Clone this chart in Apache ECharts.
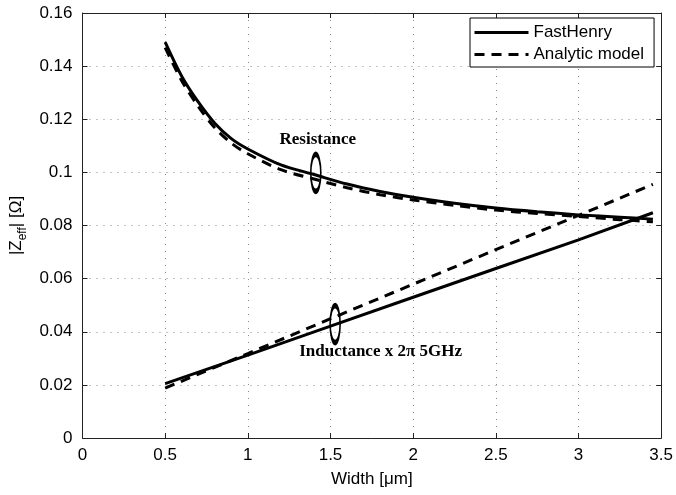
<!DOCTYPE html>
<html>
<head>
<meta charset="utf-8">
<script src="https://cdn.jsdelivr.net/npm/echarts@6/dist/echarts.min.js"></script>
<style>html,body{margin:0;padding:0;background:#fff;}#c{width:676px;height:495px;}</style>
</head>
<body>
<div id="c"></div>
<script>
// ---- data ----
const widthR = [0.5, 0.6, 0.7, 0.8, 0.9, 1.0, 1.2, 1.4, 1.6, 1.8, 2.0, 2.25, 2.5, 2.75, 3.0, 3.25, 3.45];
const resFastHenry = [0.149, 0.1362, 0.1265, 0.1185, 0.1127, 0.1088, 0.1028, 0.0992, 0.0956, 0.0928, 0.0906, 0.0884, 0.0866, 0.0852, 0.0840, 0.0831, 0.0824];
const resAnalytic = [0.147, 0.1345, 0.1248, 0.1168, 0.1110, 0.1070, 0.1010, 0.0975, 0.0942, 0.0916, 0.0896, 0.0876, 0.0858, 0.0845, 0.0834, 0.0822, 0.0814];
const widthL = [0.5, 1.0, 1.5, 2.0, 2.5, 3.0, 3.45];
const indFastHenry = [0.0205, 0.0312, 0.0421, 0.0530, 0.0638, 0.0746, 0.0848];
const indAnalytic = [0.0188, 0.0318, 0.0449, 0.0579, 0.0709, 0.0838, 0.0955];
const xTicks = [0, 0.5, 1, 1.5, 2, 2.5, 3, 3.5];
const yTicks = [0, 0.02, 0.04, 0.06, 0.08, 0.1, 0.12, 0.14, 0.16];
const legendNames = ['FastHenry', 'Analytic model'];
const annotations = [
  { text: 'Resistance', x: 1.423, y: 0.1122, ellipseX: 1.411, ellipseY: 0.0998 },
  { text: 'Inductance x 2\u03c0 5GHz', x: 1.803, y: 0.0324, ellipseX: 1.528, ellipseY: 0.0429 }
];

const pairs = (xs, ys) => xs.map((x, i) => [x, ys[i]]);
const sans = 'Liberation Sans, Arial, Helvetica, sans-serif';
const serif = 'Liberation Serif, Times New Roman, serif';
const axisCol = '#222';

const markData = [];
annotations.forEach(a => {
  markData.push({
    coord: [a.ellipseX, a.ellipseY], symbol: 'circle', symbolSize: [10, 37],
    itemStyle: { color: 'none', borderColor: '#000', borderWidth: 3 },
    label: { show: false }
  });
  markData.push({
    coord: [a.x, a.y], symbol: 'circle', symbolSize: 0,
    label: { show: true, formatter: a.text, position: 'inside', fontFamily: serif, fontWeight: 'bold', fontSize: 17, color: '#000' }
  });
});

const baseLine = (name, data, dashed) => ({
  type: 'line', name: name, data: data, symbol: 'none', smooth: 0.3,
  lineStyle: { color: '#000', width: 3, type: dashed ? [10, 7] : 'solid' },
  itemStyle: { color: '#000' },
  emphasis: { disabled: true }, animation: false, z: dashed ? 3 : 2
});

const s1 = baseLine(legendNames[0], pairs(widthR, resFastHenry), false);
const s2 = baseLine(legendNames[1], pairs(widthR, resAnalytic), true);
const s3 = baseLine(legendNames[0], pairs(widthL, indFastHenry), false);
const s4 = baseLine(legendNames[1], pairs(widthL, indAnalytic), true);
s3.smooth = false; s4.smooth = false;
s1.markPoint = { data: markData, silent: true, animation: false, z: 10 };

const chart = echarts.init(document.getElementById('c'), null, { renderer: 'canvas' });
chart.setOption({
  backgroundColor: '#fff',
  animation: false,
  grid: { left: 82, right: 10, top: 13, bottom: 57, show: false },
  legend: {
    data: legendNames, orient: 'vertical', left: 470, top: 18,
    backgroundColor: '#fff', borderColor: '#000', borderWidth: 1,
    padding: [6, 10, 4, 3], itemWidth: 54, itemHeight: 14, itemGap: 5,
    itemStyle: { opacity: 0 },
    lineStyle: { width: 3 },
    textStyle: { fontFamily: sans, fontSize: 17, color: '#000' }
  },
  xAxis: [{
    type: 'value', min: 0, max: 3.5, interval: 0.5, position: 'bottom',
    name: 'Width [\u03bcm]', nameLocation: 'middle', nameGap: 33,
    nameTextStyle: { fontFamily: sans, fontSize: 17, color: '#000' },
    axisLine: { show: true, onZero: false, lineStyle: { color: axisCol, width: 1 } },
    axisTick: { show: true, inside: true, length: 5, lineStyle: { color: axisCol } },
    axisLabel: { fontFamily: sans, fontSize: 17, color: '#000', margin: 9, formatter: v => String(v) },
    splitLine: { show: true, lineStyle: { color: '#888', type: [1, 6], width: 1 } }
  }, {
    type: 'value', min: 0, max: 3.5, interval: 0.5, position: 'top',
    axisLine: { show: true, onZero: false, lineStyle: { color: axisCol, width: 1 } },
    axisTick: { show: true, inside: true, length: 5, lineStyle: { color: axisCol } },
    axisLabel: { show: false }, splitLine: { show: false }
  }],
  yAxis: [{
    type: 'value', min: 0, max: 0.16, interval: 0.02, position: 'left',
    name: '|Z{sub|eff}| [\u03a9]', nameLocation: 'middle', nameGap: 53,
    nameTextStyle: { fontFamily: sans, fontSize: 17, color: '#000',
      rich: { sub: { fontFamily: sans, fontSize: 12, color: '#000', lineHeight: 24, verticalAlign: 'bottom' } } },
    axisLine: { show: true, onZero: false, lineStyle: { color: axisCol, width: 1 } },
    axisTick: { show: true, inside: true, length: 5, lineStyle: { color: axisCol } },
    axisLabel: { fontFamily: sans, fontSize: 17, color: '#000', margin: 10, formatter: v => String(+v.toFixed(2)) },
    splitLine: { show: true, lineStyle: { color: '#888', type: [1, 6], width: 1 } }
  }, {
    type: 'value', min: 0, max: 0.16, interval: 0.02, position: 'right',
    axisLine: { show: true, onZero: false, lineStyle: { color: axisCol, width: 1 } },
    axisTick: { show: true, inside: true, length: 5, lineStyle: { color: axisCol } },
    axisLabel: { show: false }, splitLine: { show: false }
  }],
  series: [s1, s2, s3, s4]
});
</script>
</body>
</html>
